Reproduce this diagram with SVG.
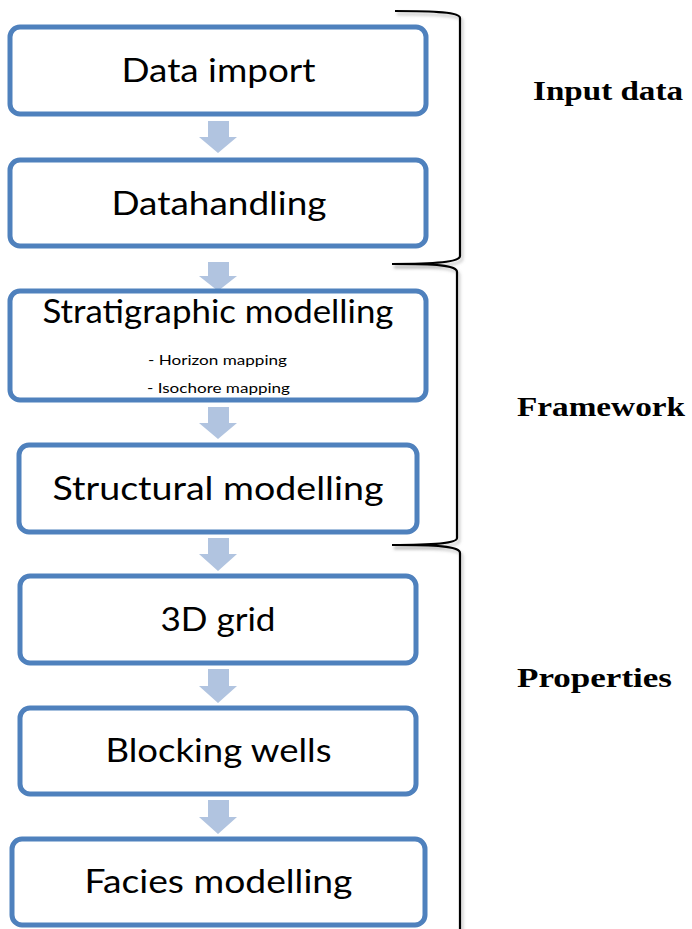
<svg xmlns="http://www.w3.org/2000/svg" width="692" height="929" viewBox="0 0 692 929">
  <style>
    .box { fill: #ffffff; stroke: #4F81BD; stroke-width: 5; }
    .arrow { fill: #B1C4E0; }
    .t { font-family: Lato, "Open Sans", "Liberation Sans", sans-serif; font-size: 33px; fill: #000; text-anchor: middle; }
    .s { font-family: Lato, "Open Sans", "Liberation Sans", sans-serif; font-size: 14px; fill: #000; text-anchor: middle; }
    .lbl { font-family: "Liberation Serif", "DejaVu Serif", serif; font-weight: bold; font-size: 28px; fill: #000; }
    .br { fill: none; stroke: #000; stroke-width: 2.2; }
    .brs { fill: none; stroke: #888; stroke-width: 2.5; opacity: 0.45; }
  </style>
  <defs>
    <filter id="blur" x="-10%" y="-10%" width="120%" height="120%">
      <feGaussianBlur stdDeviation="1.5"/>
    </filter>
  </defs>

  <g id="connectors">
    <polygon class="arrow" points="208,121 229,121 229,137 237,137 218,153 199,137 208,137"/>
    <polygon class="arrow" points="208,262 229,262 229,276 237,276 218,291 199,276 208,276"/>
    <polygon class="arrow" points="208,407 229,407 229,423 237,423 218,439 199,423 208,423"/>
    <polygon class="arrow" points="208,538 229,538 229,554 237,554 218,571 199,554 208,554"/>
    <polygon class="arrow" points="208,669 229,669 229,686 237,686 218,703 199,686 208,686"/>
    <polygon class="arrow" points="208,800 229,800 229,817 237,817 218,834 199,817 208,817"/>
  </g>

  <g id="node-data-import">
    <rect class="box" x="10" y="27" width="416" height="87" rx="10"/>
    <text class="t" x="218.5" y="82" textLength="194" lengthAdjust="spacingAndGlyphs">Data import</text>
  </g>
  <g id="node-datahandling">
    <rect class="box" x="10" y="160" width="416" height="86" rx="10"/>
    <text class="t" x="219" y="215" textLength="215" lengthAdjust="spacingAndGlyphs">Datahandling</text>
  </g>
  <g id="node-stratigraphic">
    <rect class="box" x="10" y="291" width="416" height="109" rx="10"/>
    <text class="t" x="218" y="323" textLength="351" lengthAdjust="spacingAndGlyphs">Stratigraphic modelling</text>
    <text class="s" x="217.5" y="365" textLength="139" lengthAdjust="spacingAndGlyphs">- Horizon mapping</text>
    <text class="s" x="218.5" y="393" textLength="143" lengthAdjust="spacingAndGlyphs">- Isochore mapping</text>
  </g>
  <g id="node-structural">
    <rect class="box" x="19" y="445" width="398" height="87" rx="10"/>
    <text class="t" x="218" y="500" textLength="331" lengthAdjust="spacingAndGlyphs">Structural modelling</text>
  </g>
  <g id="node-3d-grid">
    <rect class="box" x="20" y="576" width="396" height="87" rx="10"/>
    <text class="t" x="218" y="631" textLength="115" lengthAdjust="spacingAndGlyphs">3D grid</text>
  </g>
  <g id="node-blocking-wells">
    <rect class="box" x="20" y="708" width="396" height="86" rx="10"/>
    <text class="t" x="218.5" y="762" textLength="226" lengthAdjust="spacingAndGlyphs">Blocking wells</text>
  </g>
  <g id="node-facies">
    <rect class="box" x="12" y="839" width="413" height="86" rx="10"/>
    <text class="t" x="218.5" y="893" textLength="268" lengthAdjust="spacingAndGlyphs">Facies modelling</text>
  </g>

  <g id="brackets">
    <g filter="url(#blur)" transform="translate(2,3)">
      <path class="brs" d="M395,11 C435,11 460,12 460,18 L460,256 C460,262 435,264 392,264"/>
      <path class="brs" d="M392,264 C435,264 457,265 457,272 L457,538 C457,543 435,545 392,545"/>
      <path class="brs" d="M392,545 C435,545 460,546 460,553 L460,929"/>
    </g>
    <path class="br" d="M395,11 C435,11 460,12 460,18 L460,256 C460,262 435,264 392,264"/>
    <path class="br" d="M392,264 C435,264 457,265 457,272 L457,538 C457,543 435,545 392,545"/>
    <path class="br" d="M392,545 C435,545 460,546 460,553 L460,929"/>
  </g>

  <g id="labels">
    <text class="lbl" x="533" y="100" textLength="150" lengthAdjust="spacingAndGlyphs">Input data</text>
    <text class="lbl" x="517" y="416" textLength="168" lengthAdjust="spacingAndGlyphs">Framework</text>
    <text class="lbl" x="517" y="687" textLength="155" lengthAdjust="spacingAndGlyphs">Properties</text>
  </g>
</svg>
